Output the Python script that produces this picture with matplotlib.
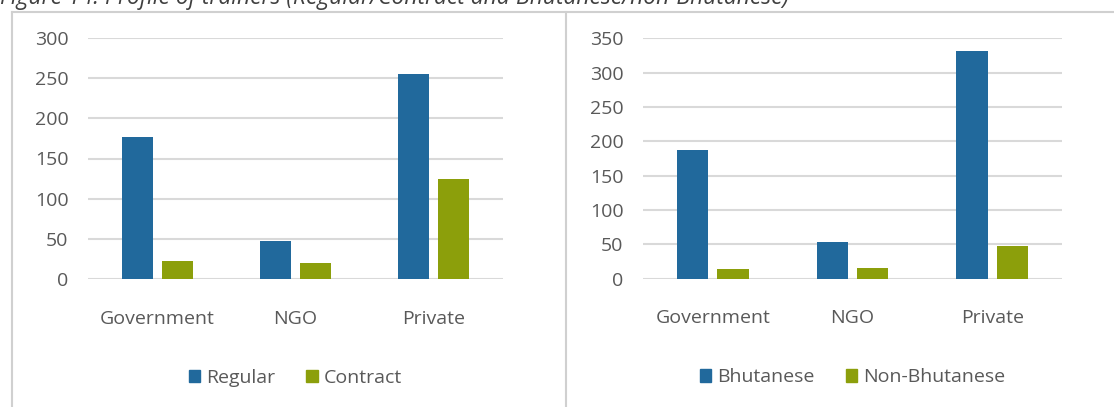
import matplotlib.pyplot as plt
import numpy as np
from matplotlib.lines import Line2D
from matplotlib.patches import Patch

plt.rcParams['font.family'] = ['Open Sans', 'DejaVu Sans']

categories = ['Government', 'NGO', 'Private']
regular = [177, 47, 255]
contract = [23, 20, 124]
bhutanese = [187, 53, 332]
non_bhutanese = [14, 16, 48]

blue = '#21699c'
green = '#8c9f0b'
text_col = '#595959'
grid_col = '#d9d9d9'
frame_col = '#d0d0d0'

W, H = 1114, 407
fig = plt.figure(figsize=(W / 100, H / 100), dpi=100)

fig.text(0.0, 1 - 4 / H, 'Figure 14: Profile of trainers (Regular/Contract and Bhutanese/non-Bhutanese)',
         fontsize=16.5, style='italic', color='#404040', va='baseline', ha='left')

# panel frames
for xs, ys in [([12, 12], [12, H]), ([12, W], [12, 12]), ([566, 566], [12, H])]:
    fig.add_artist(Line2D([x / W for x in xs], [1 - y / H for y in ys],
                          color=frame_col, lw=1.5, transform=fig.transFigure))


def panel(left, right, top, bottom, s1, s2, names, ymax, step):
    ax = fig.add_axes([left / W, 1 - bottom / H, (right - left) / W, (bottom - top) / H])
    x = np.arange(len(categories))
    w = 0.225
    ax.bar(x - 0.145, s1, w, color=blue, zorder=3)
    ax.bar(x + 0.145, s2, w, color=green, zorder=3)
    ax.set_xlim(-0.5, len(categories) - 0.5)
    ax.set_ylim(0, ymax)
    ax.set_yticks(np.arange(0, ymax + 1, step))
    ax.set_xticks(x)
    ax.set_xticklabels(categories)
    ax.yaxis.grid(True, color=grid_col, lw=1.5, zorder=0)
    for sp in ax.spines.values():
        sp.set_visible(False)
    ax.tick_params(length=0, labelsize=14, colors=text_col)
    ax.tick_params(axis='y', pad=14)
    ax.tick_params(axis='x', pad=22)
    handles = [Patch(color=blue, label=names[0]), Patch(color=green, label=names[1])]
    ax.legend(handles=handles, loc='center', bbox_to_anchor=(0.5, -0.41), ncol=2,
              frameon=False, fontsize=14, labelcolor=text_col, handlelength=0.6,
              handleheight=0.6, handletextpad=0.3, columnspacing=1.6)
    return ax


panel(88, 503, 38, 279, regular, contract, ['Regular', 'Contract'], 300, 50)
panel(643, 1062, 38.3, 278.7, bhutanese, non_bhutanese, ['Bhutanese', 'Non-Bhutanese'], 350, 50)

fig.savefig('out.png', dpi=100)
